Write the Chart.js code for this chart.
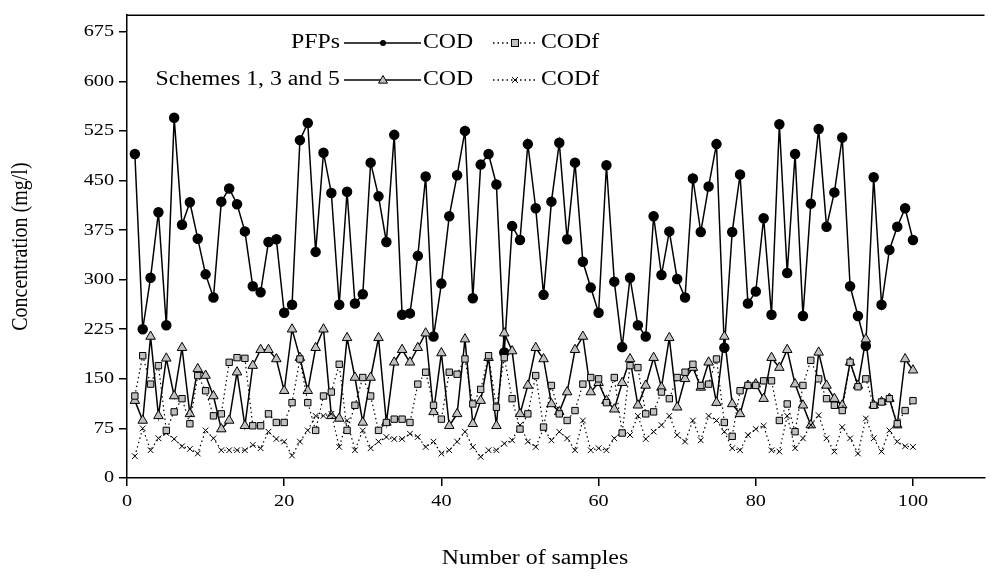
<!DOCTYPE html>
<html>
<head>
<meta charset="utf-8">
<script src="https://cdn.jsdelivr.net/npm/chart.js@4.4.0/dist/chart.umd.min.js"></script>
<style>
  html, body { margin: 0; padding: 0; background: #fff; }
  #wrap { width: 991px; height: 580px; position: relative; }
</style>
</head>
<body>
<div id="wrap"><canvas id="chart" width="991" height="580"></canvas></div>
<script>
// sample numbers (x)
const samples = [1,2,3,4,5,6,7,8,9,10,11,12,13,14,15,16,17,18,19,20,
  21,22,23,24,25,26,27,28,29,30,31,32,33,34,35,36,37,38,39,40,
  41,42,43,44,45,46,47,48,49,50,51,52,53,54,55,56,57,58,59,60,
  61,62,63,64,65,66,67,68,69,70,71,72,73,74,75,76,77,78,79,80,
  81,82,83,84,85,86,87,88,89,90,91,92,93,94,95,96,97,98,99,100];

// PFPs COD (mg/l)
const codPFP = [490,225,303,402,231,545,383,417,362,308, 273,418,438,414,373,290,281,357,361,250,
  262,511,537,342,492,431,262,433,264,278, 477,426,357,519,247,249,336,456,214,294,
  396,458,525,272,474,490,444,190,381,360, 505,408,277,418,507,361,477,327,288,250,
  473,297,198,303,231,214,396,307,373,301, 273,453,372,441,505,197,372,459,264,282,
  393,247,535,310,490,245,415,528,380,432, 515,290,245,200,455,262,345,380,408,360];

// PFPs CODf
const codfPFP = [124,185,142,170,72,100,120,82,155,132, 94,97,175,182,181,79,79,97,84,84,
  114,180,114,72,124,130,172,72,110,152, 124,72,84,89,89,84,142,160,110,89,
  160,157,180,112,134,185,107,182,120,74, 97,155,77,140,97,87,102,142,152,150,
  114,152,68,170,167,97,100,130,120,152, 160,172,140,142,180,84,63,132,140,140,
  147,147,87,112,70,140,178,150,120,110, 102,175,138,150,110,115,120,82,102,117];

// Schemes 1, 3 and 5 COD
const codSch = [117,87,214,94,181,124,197,97,165,155, 124,74,87,160,79,170,194,194,180,132,
  225,182,132,197,225,94,90,212,152,84, 152,212,84,175,194,175,197,219,100,189,
  79,97,210,82,117,182,79,219,192,97, 140,197,180,112,100,130,194,214,130,144,
  117,104,144,180,110,140,182,137,212,107, 150,167,137,175,114,214,112,97,140,142,
  120,182,167,194,142,110,80,190,140,120, 110,175,140,210,110,115,120,80,180,163];

// Schemes 1, 3 and 5 CODf
const codfSch = [33,75,42,60,68,59,48,44,37,72, 60,42,42,42,42,50,45,70,59,55,
  34,55,72,94,94,97,47,87,42,72, 45,55,62,59,59,67,62,47,55,37,
  42,55,70,47,32,42,42,52,57,80, 55,47,75,57,70,60,42,87,42,45,
  42,60,70,65,94,59,70,80,94,65, 55,87,57,94,87,70,45,42,65,74,
  79,42,40,94,45,60,80,95,60,40, 77,60,37,90,60,40,72,55,48,47];

const xTicks = [0, 20, 40, 60, 80, 100];
const yTicks = [0, 75, 150, 225, 300, 375, 450, 525, 600, 675];

const serif = '"Liberation Serif", "Times New Roman", serif';
const gray = '#c0c0c0';
const textStretch = 1.19;   // the original graphic has horizontally widened lettering

function pts(vals) {
  return vals.map((v, i) => ({ x: samples[i], y: v }));
}

// widen every text run around its anchor point
const wideText = {
  id: 'wideText',
  beforeInit(chart) {
    const c = chart.ctx;
    const fill = c.fillText;
    c.fillText = function (text, x, y) {
      const t = this.getTransform();
      this.save();
      this.translate(x, y);
      if (Math.abs(t.b) > 0.5) this.scale(1, textStretch);
      else this.scale(textStretch, 1);
      fill.call(this, text, 0, 0);
      this.restore();
    };
  }
};

// two-row legend inside the plot, top frame line, x axis title
const frameAndLegend = {
  id: 'frameAndLegend',
  afterDraw(chart) {
    const c = chart.ctx;
    const area = chart.chartArea;
    c.save();
    c.strokeStyle = '#000';
    c.lineWidth = 1.5;
    c.beginPath();
    c.moveTo(area.left, area.top);
    c.lineTo(area.right, area.top);
    c.stroke();

    const rows = [
      { label: 'PFPs', y: 43, solid: 'circle', dotted: 'rect' },
      { label: 'Schemes 1, 3 and 5', y: 80, solid: 'triangle', dotted: 'crossRot' }
    ];
    c.font = '20px ' + serif;
    c.fillStyle = '#000';
    c.textBaseline = 'middle';
    rows.forEach(r => {
      c.textAlign = 'right';
      c.fillText(r.label, 340, r.y);
      c.setLineDash([]);
      c.lineWidth = 1.5;
      c.beginPath(); c.moveTo(344, r.y); c.lineTo(421, r.y); c.stroke();
      c.setLineDash([1.5, 3]);
      c.beginPath(); c.moveTo(493, r.y); c.lineTo(536, r.y); c.stroke();
      c.setLineDash([]);
      drawMarker(c, r.solid, 383, r.y);
      drawMarker(c, r.dotted, 515, r.y);
      c.textAlign = 'left';
      c.fillStyle = '#000';
      c.fillText('COD', 423, r.y);
      c.fillText('CODf', 541, r.y);
    });

    c.font = '20px ' + serif;
    c.textAlign = 'center';
    c.fillText('Number of samples', 535, 559);
    c.restore();
  }
};

function drawMarker(c, style, x, y) {
  c.save();
  c.lineWidth = 1;
  c.strokeStyle = '#000';
  if (style === 'circle') {
    c.fillStyle = '#000';
    c.beginPath(); c.arc(x, y, 3, 0, Math.PI * 2); c.fill();
  } else if (style === 'triangle') {
    const r = 4.5;
    c.fillStyle = gray;
    c.beginPath();
    c.moveTo(x, y - r);
    c.lineTo(x + r, y + r * 0.7);
    c.lineTo(x - r, y + r * 0.7);
    c.closePath(); c.fill(); c.stroke();
  } else if (style === 'rect') {
    const r = 3.5;
    c.fillStyle = gray;
    c.fillRect(x - r, y - r, 2 * r, 2 * r);
    c.strokeRect(x - r, y - r, 2 * r, 2 * r);
  } else {
    const r = 3;
    c.beginPath();
    c.moveTo(x - r, y - r); c.lineTo(x + r, y + r);
    c.moveTo(x + r, y - r); c.lineTo(x - r, y + r);
    c.stroke();
  }
  c.restore();
}

new Chart(document.getElementById('chart').getContext('2d'), {
  type: 'line',
  data: {
    datasets: [
      {
        label: 'PFPs CODf',
        data: pts(codfPFP),
        borderColor: '#000',
        borderWidth: 1.2,
        borderDash: [1.5, 3],
        pointStyle: 'rect',
        pointRadius: 4.5,
        pointBackgroundColor: gray,
        pointBorderColor: '#000',
        pointBorderWidth: 1,
        tension: 0
      },
      {
        label: 'Schemes 1, 3 and 5 CODf',
        data: pts(codfSch),
        borderColor: '#000',
        borderWidth: 1.2,
        borderDash: [1.5, 3],
        pointStyle: 'crossRot',
        pointRadius: 4,
        pointBorderColor: '#000',
        pointBorderWidth: 1,
        tension: 0
      },
      {
        label: 'Schemes 1, 3 and 5 COD',
        data: pts(codSch),
        borderColor: '#000',
        borderWidth: 1.5,
        pointStyle: 'triangle',
        pointRadius: 5.5,
        pointBackgroundColor: gray,
        pointBorderColor: '#000',
        pointBorderWidth: 1,
        tension: 0
      },
      {
        label: 'PFPs COD',
        data: pts(codPFP),
        borderColor: '#000',
        borderWidth: 1.5,
        pointStyle: 'circle',
        pointRadius: 4.5,
        pointBackgroundColor: '#000',
        pointBorderColor: '#000',
        tension: 0
      }
    ]
  },
  options: {
    responsive: false,
    animation: false,
    devicePixelRatio: 1,
    layout: { padding: { top: 11, right: 0, left: 0, bottom: 0 } },
    plugins: {
      legend: { display: false },
      tooltip: { enabled: false }
    },
    scales: {
      x: {
        type: 'linear',
        min: 0,
        max: 109.1,
        afterBuildTicks: s => { s.ticks = xTicks.map(v => ({ value: v })); },
        afterFit: s => { s.height = 102; },
        ticks: { color: '#000', font: { family: serif, size: 17 }, padding: 5, maxRotation: 0 },
        grid: { drawOnChartArea: false, drawTicks: true, tickLength: 8, color: '#000', lineWidth: 1.5 },
        border: { color: '#000', width: 1.5 },
        title: { display: false }
      },
      y: {
        min: 0,
        max: 700,
        afterBuildTicks: s => { s.ticks = yTicks.map(v => ({ value: v })); },
        afterFit: s => { s.width = 127; },
        ticks: { color: '#000', font: { family: serif, size: 17 }, padding: 5 },
        grid: { drawOnChartArea: false, drawTicks: true, tickLength: 8, color: '#000', lineWidth: 1.5 },
        border: { color: '#000', width: 1.5 },
        title: {
          display: true,
          text: 'Concentration (mg/l)',
          color: '#000',
          font: { family: serif, size: 20 },
          padding: { top: 9, bottom: 0 }
        }
      }
    }
  },
  plugins: [wideText, frameAndLegend]
});
</script>
</body>
</html>
